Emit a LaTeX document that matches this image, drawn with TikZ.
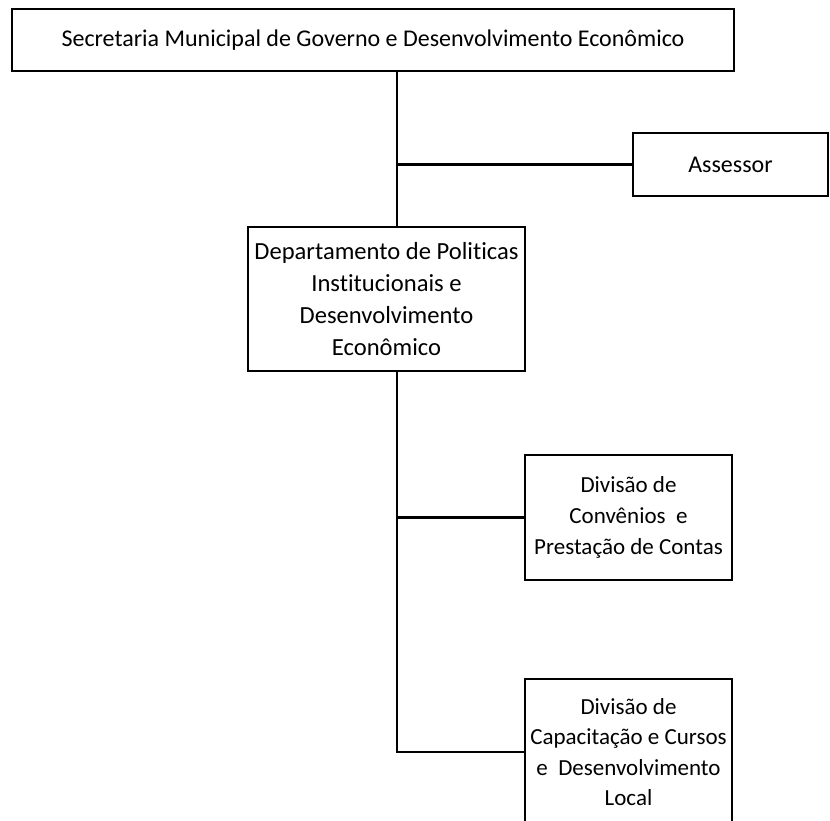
\documentclass[tikz,border=0pt]{standalone}
\usepackage{fontspec}
\setmainfont{Carlito}[Ligatures=NoCommon]
\tikzset{orgbox/.style={draw,line width=2.2pt,align=center,inner sep=0pt,
  font=\fontsize{24}{31.7}\selectfont}}
\begin{document}
\begin{tikzpicture}[x=1pt,y=-1pt,line width=2.2pt]
\useasboundingbox (0,0) rectangle (830,820);
\node[orgbox,minimum width=722pt,minimum height=62pt] (sec) at (373,40) {Secretaria Municipal de Governo e Desenvolvimento Econômico};
\node[orgbox,minimum width=195pt,minimum height=63pt] (ass) at (730.5,164.5) {Assessor};
\node[orgbox,minimum width=277pt,minimum height=144pt,font=\fontsize{24.6}{31.7}\selectfont] (dep) at (386.5,299) {Departamento de Politicas\\Institucionais e\\Desenvolvimento\\Econômico};
\node[orgbox,minimum width=207pt,minimum height=125pt,font=\fontsize{23}{31}\selectfont] (conv) at (628.5,517.5) {Divisão de\\Convênios \ e\\Prestação de Contas};
\node[orgbox,minimum width=207pt,minimum height=146pt,font=\fontsize{23}{30.5}\selectfont] (cap) at (628.5,752) {Divisão de\\Capacitação e Cursos\\e \ Desenvolvimento\\Local};
\coordinate (trunk) at (397,0);
% ligacoes
\draw (sec.south -| trunk) -- (dep.north -| trunk);
\draw (trunk |- ass.west) -- (ass.west);
\draw (dep.south -| trunk) -- (trunk |- cap.west) -- (cap.west);
\draw (trunk |- conv.west) -- (conv.west);
\end{tikzpicture}
\end{document}
